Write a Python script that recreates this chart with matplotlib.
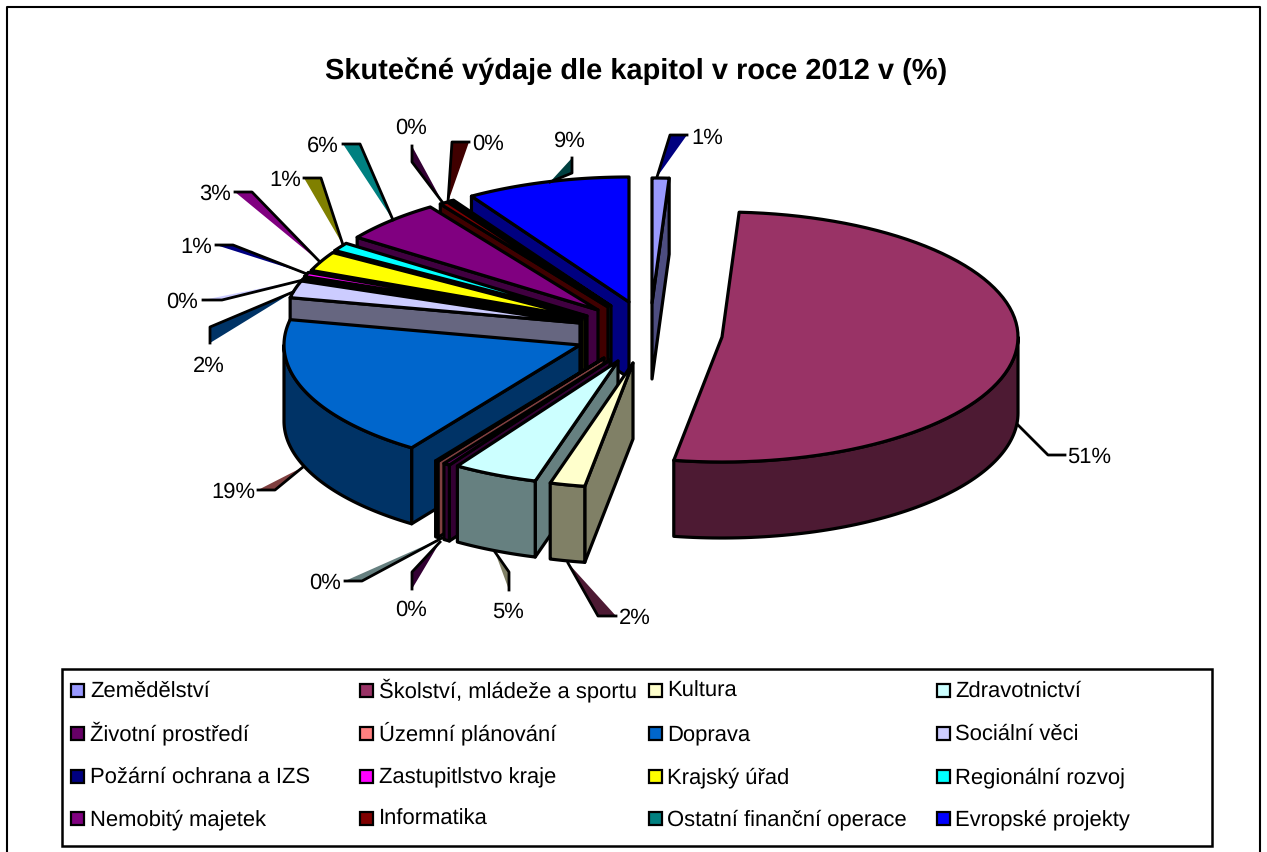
import numpy as np
import matplotlib
matplotlib.use('Agg')
import matplotlib.pyplot as plt
from matplotlib.patches import Polygon, Rectangle

plt.rcParams['font.family'] = ['Liberation Sans', 'DejaVu Sans']
plt.rcParams['text.hinting'] = 'none'
plt.rcParams['text.hinting_factor'] = 1

title = 'Skutečné výdaje dle kapitol v roce 2012 v (%)'
categories = ['Zemědělství', 'Školství, mládeže a sportu', 'Kultura', 'Zdravotnictví',
              'Životní prostředí', 'Územní plánování', 'Doprava', 'Sociální věci',
              'Požární ochrana a IZS', 'Zastupitlstvo kraje', 'Krajský úřad', 'Regionální rozvoj',
              'Nemobitý majetek', 'Informatika', 'Ostatní finanční operace', 'Evropské projekty']
values = [0.92, 51.49, 1.9, 4.6, 0.35, 0.15, 18.55, 2.2, 0.2, 0.55, 2.55, 1.1, 5.52, 0.45, 0.2, 8.9]
colors = ['#9999FF', '#993366', '#FFFFCC', '#CCFFFF', '#660066', '#FF8080', '#0066CC', '#CCCCFF',
          '#000080', '#FF00FF', '#FFFF00', '#00FFFF', '#800080', '#800000', '#008080', '#0000FF']

# layout in pixels: where each exploded slice has its tip, and the order it gets painted
tips = [(652, 303), (722, 337), (633, 363), (618, 361), (610, 360), (604, 358), (580, 345), (580, 323),
        (581, 322), (582, 320), (585, 318), (587, 316), (598, 310), (608, 307), (611, 306), (629, 302)]
paint_order = [15, 14, 13, 12, 11, 10, 9, 8, 7, 6, 5, 4, 3, 2, 1, 0]
RX, RY, DEPTH = 296, 125, 76
EDGE = 2.3

# leader wedges: tip, corner, end, fill, then centre of the label
leaders = [((657, 177), (670, 135), (687, 135), '#000080', (707, 138)),
           ((1018, 425), (1048, 455), (1065, 455), None, (1089, 457)),
           ((568, 563), (598, 616), (616, 616), '#4D1A33', (635, 618)),
           ((495, 552), (509, 572), (509, 590), '#808066', (508, 612)),
           ((440, 542), (412, 572), (412, 589), '#330033', (411, 610)),
           ((442, 538), (362, 581), (345, 581), '#668080', (325, 583)),
           ((303, 467), (275, 490), (258, 490), '#804040', (233, 492)),
           ((293, 292), (210, 327), (210, 343), '#003366', (209, 366)),
           ((303, 280), (222, 300), (203, 300), '#CCCCFF', (182, 302)),
           ((307, 274), (233, 245), (216, 245), '#000080', (196, 247)),
           ((320, 262), (252, 192), (235, 192), '#800080', (215, 194)),
           ((343, 245), (321, 178), (304, 178), '#808000', (285, 180)),
           ((393, 220), (360, 144), (343, 144), '#008080', (323, 146)),
           ((443, 203), (412, 162), (412, 146), '#330033', (411, 128)),
           ((448, 202), (452, 142), (469, 142), '#400000', (488, 144)),
           ((550, 182), (572, 173), (572, 158), '#004040', (570, 141))]

legend_x = [77.5, 366, 655, 943]
legend_text_x = [90, 379, 667, 955]
legend_y = [690, 733, 776, 818]


def rim(tip, angles, drop=0):
    a = np.radians(angles)
    return np.column_stack([tip[0] + RX * np.sin(a), tip[1] - RY * np.cos(a) + drop])


def darker(color):
    return tuple(c * 0.5 for c in matplotlib.colors.to_rgb(color))


def face(ax, pts, color):
    ax.add_patch(Polygon(pts, closed=True, facecolor=color, edgecolor='black',
                         linewidth=EDGE, joinstyle='round'))


def draw_slice(ax, tip, a0, a1, color):
    tip = np.array(tip, dtype=float)
    side = darker(color)
    # cut walls, only the ones turned to the viewer
    if 180 < a0 < 360:
        p = rim(tip, [a0])[0]
        face(ax, [tip, p, p + (0, DEPTH), tip + (0, DEPTH)], side)
    if 0 < a1 < 180:
        p = rim(tip, [a1])[0]
        face(ax, [tip, p, p + (0, DEPTH), tip + (0, DEPTH)], side)
    # round outside
    lo, hi = max(a0, 90), min(a1, 270)
    if lo < hi:
        arc = np.linspace(lo, hi, 80)
        face(ax, np.vstack([rim(tip, arc), rim(tip, arc[::-1], DEPTH)]), side)
    # top
    arc = np.linspace(a0, a1, 80)
    face(ax, np.vstack([[tip], rim(tip, arc)]), color)


fig = plt.figure(figsize=(12.67, 8.52), dpi=100)
ax = fig.add_axes([0, 0, 1, 1])
ax.set_xlim(0, 1267)
ax.set_ylim(852, 0)
ax.axis('off')

# outer frame runs off the bottom of the image
ax.plot([7, 7, 1260, 1260], [860, 7, 7, 860], color='black', lw=1.5)

ax.text(636.5, 71, title, fontsize=21.1, fontweight='bold', ha='center', va='center')

shares = np.array(values) / sum(values) * 360
ends = np.cumsum(shares)
starts = ends - shares
for i in paint_order:
    draw_slice(ax, tips[i], starts[i], ends[i], colors[i])

labels = [f'{round(v)}%' for v in values]
for (tip, corner, end, fill, pos), text in zip(leaders, labels):
    if fill:
        ax.add_patch(Polygon([tip, corner, end], closed=True, facecolor=fill, edgecolor='none'))
    ax.plot(*zip(tip, corner, end), color='black', lw=2)
    ax.text(pos[0], pos[1], text, fontsize=16.2, ha='center', va='center')

ax.add_patch(Rectangle((62, 669), 1150, 177, facecolor='white', edgecolor='black', linewidth=1.8))
for i, name in enumerate(categories):
    col, y = i % 4, legend_y[i // 4]
    ax.add_patch(Rectangle((legend_x[col] - 6.5, y - 6.5), 13, 13, facecolor=colors[i],
                           edgecolor='black', linewidth=1.6))
    ax.text(legend_text_x[col], y + 7.2, name, fontsize=15.8, ha='left', va='baseline')

fig.savefig('out.png', dpi=100)
